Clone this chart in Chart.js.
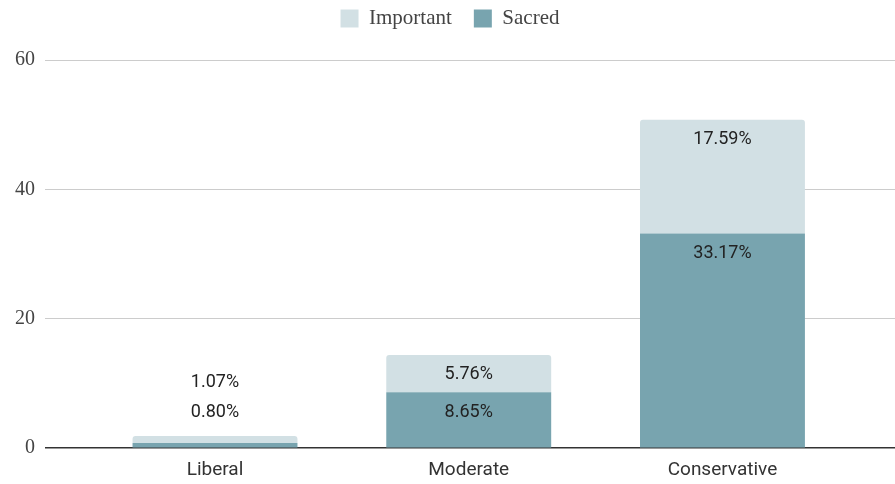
<!DOCTYPE html>
<html>
<head>
<meta charset="utf-8">
<script src="https://cdn.jsdelivr.net/npm/chart.js@4.4.1/dist/chart.umd.min.js"></script>
<style>
  html, body { margin: 0; padding: 0; background: #fff; }
  #wrap { width: 895px; height: 484px; }
</style>
</head>
<body>
<div id="wrap"><canvas id="chart"></canvas></div>
<script>
var categories = ['Liberal', 'Moderate', 'Conservative'];
var sacred = [0.80, 8.65, 33.17];
var important = [1.07, 5.76, 17.59];
var yTicks = [0, 20, 40, 60];

var serif = '"Liberation Serif", "DejaVu Serif", serif';
var sans = 'Roboto, "Noto Sans", sans-serif';

// extra space under the legend
var legendSpace = {
    id: 'legendSpace',
    beforeInit: function(chart) {
        var fit = chart.legend.fit;
        chart.legend.fit = function() {
            fit.bind(chart.legend)();
            this.height += 21;
        };
    }
};

// labels at the top of each segment, or above the bar if the stack is too short
var segmentLabels = {
    id: 'segmentLabels',
    afterDatasetsDraw: function(chart) {
        var ctx = chart.ctx;
        var values = [sacred, important];
        var metas = [chart.getDatasetMeta(0), chart.getDatasetMeta(1)];
        ctx.save();
        ctx.font = '18px ' + sans;
        ctx.fillStyle = '#222';
        ctx.textAlign = 'center';
        ctx.textBaseline = 'middle';
        for (var i = 0; i < categories.length; i++) {
            var bottom = metas[0].data[i];
            var top = metas[1].data[i];
            var stackH = bottom.base - top.y;
            for (var d = 0; d < 2; d++) {
                var el = metas[d].data[i];
                var y = stackH < 30 ? top.y - 24 - 30 * d : el.y + 20;
                ctx.fillText(values[d][i].toFixed(2) + '%', el.x, y);
            }
        }
        ctx.restore();
    }
};

var ctx = document.getElementById('chart').getContext('2d');
var chart = new Chart(ctx, {
    type: 'bar',
    data: {
        datasets: [{
            label: 'Sacred',
            data: sacred.map(function(v, i) { return { x: i, y: v }; }),
            backgroundColor: '#78a4af',
            borderRadius: 3,
            categoryPercentage: 0.65,
            barPercentage: 1
        }, {
            label: 'Important',
            data: important.map(function(v, i) { return { x: i, y: v }; }),
            backgroundColor: '#d2e0e4',
            borderRadius: 3,
            categoryPercentage: 0.65,
            barPercentage: 1
        }]
    },
    options: {
        responsive: true,
        maintainAspectRatio: false,
        animation: false,
        layout: { padding: { left: 5, right: 0, top: -14, bottom: -9 } },
        plugins: {
            legend: {
                position: 'top',
                reverse: true,
                labels: {
                    boxWidth: 18,
                    boxHeight: 18,
                    padding: 22,
                    color: '#444',
                    font: { family: serif, size: 21 }
                }
            },
            tooltip: { enabled: false }
        },
        scales: {
            x: {
                type: 'linear',
                stacked: true,
                offset: false,
                min: -0.67,
                max: 2.68,
                afterBuildTicks: function(axis) {
                    axis.ticks = categories.map(function(c, i) { return { value: i }; });
                },
                ticks: {
                    callback: function(v) { return categories[v]; },
                    color: '#333',
                    padding: 11,
                    maxRotation: 0,
                    font: { family: sans, size: 19 }
                },
                grid: { display: false, drawTicks: false },
                border: { display: false }
            },
            y: {
                stacked: true,
                min: 0,
                max: 60,
                afterBuildTicks: function(axis) {
                    axis.ticks = yTicks.map(function(v) { return { value: v }; });
                },
                ticks: {
                    color: '#444',
                    padding: 10,
                    font: { family: serif, size: 20 }
                },
                grid: {
                    drawTicks: false,
                    color: function(c) { return c.tick.value === 0 ? '#333' : '#ccc'; },
                    lineWidth: function(c) { return c.tick.value === 0 ? 1.5 : 1; }
                },
                border: { display: false }
            }
        }
    },
    plugins: [legendSpace, segmentLabels]
});
</script>
</body>
</html>
